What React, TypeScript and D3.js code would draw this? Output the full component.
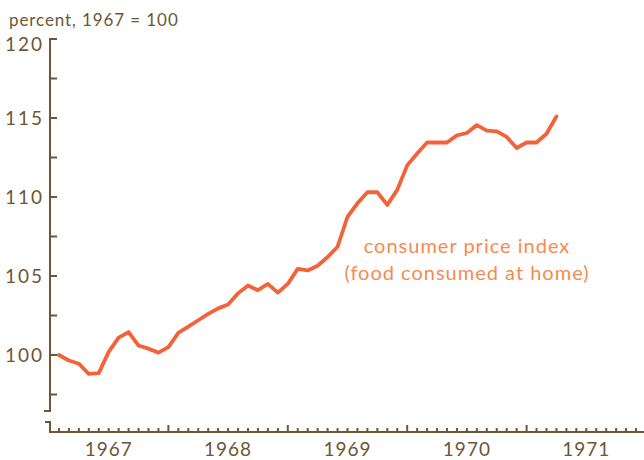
import * as d3 from 'd3';

// monthly index, Jan 1967 .. Mar 1971 (1967 = 100)
const cpiFoodAtHome = [
  100.0, 99.65, 99.45, 98.8, 98.85, 100.2, 101.1, 101.45, 100.6, 100.4, 100.15, 100.5,
  101.4, 101.8, 102.2, 102.6, 102.95, 103.2, 103.9, 104.4, 104.1, 104.5, 103.95, 104.5,
  105.45, 105.35, 105.65, 106.2, 106.85, 108.75, 109.6, 110.3, 110.3, 109.5, 110.45, 112.0,
  112.75, 113.45, 113.45, 113.45, 113.9, 114.05, 114.55, 114.2, 114.15, 113.8, 113.1, 113.45,
  113.45, 114.0, 115.1,
];
const yearLabels = ['1967', '1968', '1969', '1970', '1971'];
const yTicks = [100, 105, 110, 115, 120];
const yMinorTicks = [97.5, 102.5, 107.5, 112.5, 117.5];

const W = 644;
const H = 460;
const axisColor = '#6e5634';
const lineColor = '#f3633a';
const labelColor = '#f78a50';
const font = 'Lato, "DejaVu Sans", sans-serif';

export default function App() {
  const x = d3.scaleLinear().domain([0, 60]).range([49, 646]);
  const y = d3.scaleLinear().domain([100, 120]).range([355, 39]);
  const axisY = 432;
  const axisX = 50;

  // points sit at the end of each month
  const line = d3.line<number>()
    .x((_, i) => x(i + 1))
    .y(d => y(d))
    .curve(d3.curveLinear);

  const months = d3.range(1, 60);
  const breakTop = 411;
  const breakBottom = 422;

  return (
    <svg width={W} height={H} style={{ position: 'absolute', left: 0, top: 0, background: '#fff' }}>
      <text x={9} y={26} fontFamily={font} fontSize={17} fill={axisColor} letterSpacing={0.9}>
        percent,  1967 = 100
      </text>

      {/* y axis (with break) */}
      <g stroke={axisColor} strokeWidth={2} fill="none">
        <path d={`M${axisX + 7},${y(120)} H${axisX} V${breakTop} H${axisX - 6}`} />
        <path d={`M${axisX - 5},${breakBottom} H${axisX} V${axisY} H${W}`} />
        {[...yTicks.slice(0, -1), ...yMinorTicks].map(t => (
          <line key={t} x1={axisX} x2={axisX + 7} y1={y(t)} y2={y(t)} />
        ))}
        {months.map(m => (
          <line key={m} x1={x(m)} x2={x(m)} y1={axisY} y2={axisY - (m % 12 === 0 ? 7 : 4)} />
        ))}
      </g>

      {yTicks.map(t => (
        <text key={t} x={44} y={y(t) + (t === 120 ? 5 : 0)} dy="0.36em" textAnchor="end" fontFamily={font}
          fontSize={19} fill={axisColor} letterSpacing={2}>
          {t}
        </text>
      ))}

      {yearLabels.map((lab, i) => (
        <text key={lab} x={x(i * 12 + 6)} y={456} textAnchor="middle" fontFamily={font}
          fontSize={19} fill={axisColor} letterSpacing={1}>
          {lab}
        </text>
      ))}

      <path d={line(cpiFoodAtHome) ?? ''} fill="none" stroke={lineColor} strokeWidth={3.8}
        strokeLinejoin="round" strokeLinecap="round" />

      <g fontFamily={font} fontSize={20} fill={labelColor} textAnchor="middle" letterSpacing={1}>
        <text x={467} y={253}>consumer price index</text>
        <text x={467} y={280}>(food consumed at home)</text>
      </g>
    </svg>
  );
}
